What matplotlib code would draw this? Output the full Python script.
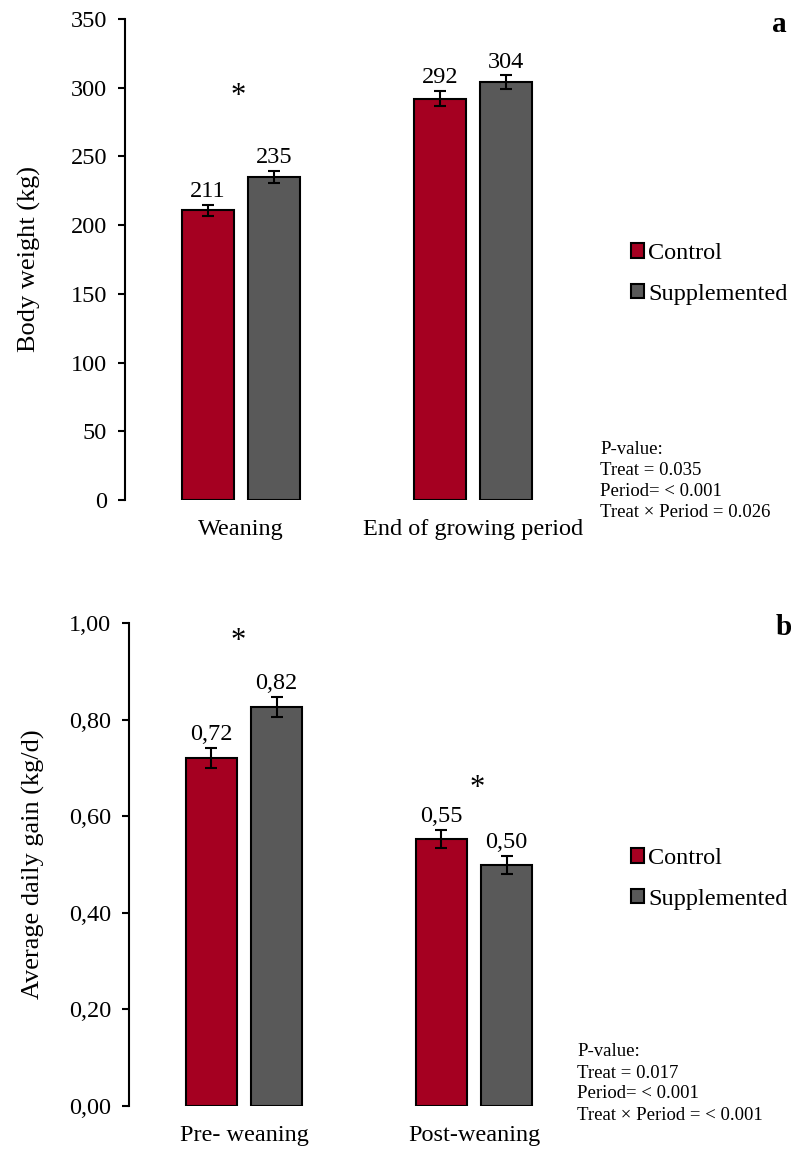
import matplotlib
matplotlib.use("Agg")
import matplotlib.pyplot as plt
from matplotlib.patches import Patch

plt.rcParams['font.family'] = ['Liberation Serif', 'DejaVu Serif']

# Data
groups_a = ["Weaning", "End of growing period"]
control_a = [211, 292]
supp_a = [235, 304]
err_control_a = [4, 5.5]
err_supp_a = [4.5, 5]
labels_control_a = ["211", "292"]
labels_supp_a = ["235", "304"]
yticks_a = [0, 50, 100, 150, 200, 250, 300, 350]

groups_b = ["Pre- weaning", "Post-weaning"]
control_b = [0.720, 0.553]
supp_b = [0.826, 0.499]
err_control_b = [0.021, 0.019]
err_supp_b = [0.02, 0.019]
labels_control_b = ["0,72", "0,55"]
labels_supp_b = ["0,82", "0,50"]
yticks_b = [0.0, 0.2, 0.4, 0.6, 0.8, 1.0]
ytick_labels_b = ["0,00", "0,20", "0,40", "0,60", "0,80", "1,00"]

ctrl_color = "#A50021"
supp_color = "#595959"

W, H = 791, 1149
fig = plt.figure(figsize=(W / 100, H / 100), dpi=100)

FS = 17.5


def px_axes(left, top, right, bottom):
    return fig.add_axes([left / W, (H - bottom) / H, (right - left) / W, (bottom - top) / H])


def draw_panel(ax, groups, ctrl, supp, ec, es, lc, ls, ylim, yticks, yticklabels, ylabel, lab_off):
    x = list(range(len(groups)))
    bw = 0.224
    off = 0.142
    xc = [i - off for i in x]
    xs = [i + off for i in x]
    ax.bar(xc, ctrl, width=bw, color=ctrl_color, edgecolor="black", linewidth=1.5, zorder=2)
    ax.bar(xs, supp, width=bw, color=supp_color, edgecolor="black", linewidth=1.5, zorder=2)
    ax.errorbar(xc, ctrl, yerr=ec, fmt="none", ecolor="black", elinewidth=1.5, capsize=4, capthick=1.5, zorder=3)
    ax.errorbar(xs, supp, yerr=es, fmt="none", ecolor="black", elinewidth=1.5, capsize=4, capthick=1.5, zorder=3)
    for xi, v, e, t in zip(xc, ctrl, ec, lc):
        ax.text(xi, v + e + lab_off, t, ha="center", va="bottom", fontsize=FS)
    for xi, v, e, t in zip(xs, supp, es, ls):
        ax.text(xi, v + e + lab_off, t, ha="center", va="bottom", fontsize=FS)
    ax.set_xlim(-0.5, len(groups) - 0.5)
    ax.set_ylim(*ylim)
    ax.set_yticks(yticks)
    ax.set_yticklabels(yticklabels, fontsize=FS)
    ax.set_xticks(x)
    ax.set_xticklabels(groups, fontsize=FS)
    ax.tick_params(axis="x", length=0, pad=14)
    ax.tick_params(axis="y", direction="out", length=5, width=1.5, pad=8)
    for s in ["top", "right", "bottom"]:
        ax.spines[s].set_visible(False)
    ax.spines["left"].set_linewidth(1.5)
    ax.set_ylabel(ylabel, fontsize=19)
    ax.patch.set_alpha(0)


# Panel a
ax1 = px_axes(125, 19, 589, 500)
draw_panel(ax1, groups_a, control_a, supp_a, err_control_a, err_supp_a,
           labels_control_a, labels_supp_a, (0, 350), yticks_a, [str(t) for t in yticks_a],
           "Body weight (kg)", 2)
ax1.text(-0.013, 293.5, "*", ha="center", va="center", fontsize=22)
ax1.yaxis.set_label_coords(-(125 - 41) / 464, 0.5)

# Panel b
ax2 = px_axes(129, 623, 589, 1106)
draw_panel(ax2, groups_b, control_b, supp_b, err_control_b, err_supp_b,
           labels_control_b, labels_supp_b, (0, 1.0), yticks_b, ytick_labels_b,
           "Average daily gain (kg/d)", 0.006)
ax2.text(-0.024, 0.961, "*", ha="center", va="center", fontsize=22)
ax2.text(1.015, 0.657, "*", ha="center", va="center", fontsize=22)
ax2.yaxis.set_label_coords(-(129 - 45) / 460, 0.5)

# Legends
handles = [Patch(facecolor=ctrl_color, edgecolor="black", linewidth=1.5, label="Control"),
           Patch(facecolor=supp_color, edgecolor="black", linewidth=1.5, label="Supplemented")]
for yc in (274 / H, 879 / H):
    fig.legend(handles=handles, loc="center left", bbox_to_anchor=(631 / W, 1 - yc),
               frameon=False, fontsize=FS, handlelength=0.54, handleheight=0.54,
               handletextpad=0.16, labelspacing=0.8, borderpad=0, borderaxespad=0)

# P-value texts
pa = ["P-value:", "Treat = 0.035", "Period= < 0.001", "Treat \u00d7 Period = 0.026"]
pb = ["P-value:", "Treat = 0.017", "Period= < 0.001", "Treat \u00d7 Period = < 0.001"]
for i, t in enumerate(pa):
    fig.text(600 / W, 1 - (449 + 21.3 * i) / H, t, fontsize=13.5, ha="left", va="center")
for i, t in enumerate(pb):
    fig.text(577 / W, 1 - (1052 + 21 * i) / H, t, fontsize=13.5, ha="left", va="center")

# Panel letters
fig.text(772 / W, 1 - 32 / H, "a", fontsize=21, fontweight="bold", ha="left", va="baseline")
fig.text(776 / W, 1 - 635 / H, "b", fontsize=21, fontweight="bold", ha="left", va="baseline")

fig.savefig("out.png", dpi=100)
